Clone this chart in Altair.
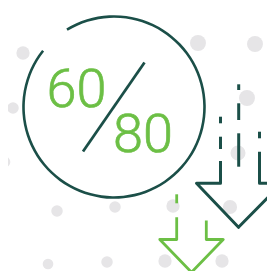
import math
import altair as alt
import pandas as pd

DARK = "#1b4f48"
GREEN = "#6cbf45"
DOT = "#e6e5e7"

# background dots (screen px): x, y, diameter
dot_x = [23, 198, 255, 13, 247, 5, 238, 57, 115, 173, 230, 48, 107, 165, 222, 275]
dot_y = [53, 43, 44, 108, 98, 162, 153, 211, 207, 206, 207, 264, 262, 261, 261, 263]
dot_d = [15, 18, 18, 13, 18, 12, 17, 13, 13, 15, 16, 12, 13, 15, 15, 15]

# big ring (centre, gap endpoints in radians, clockwise from top)
ring_cx = [114]
ring_cy = [107]
ring_t1 = [5.737]
ring_t2 = [11.666]

# slash
slash_x = [144.5]
slash_y = [62.5]
slash_x2 = [83]
slash_y2 = [151.5]

# labels
label_text = ["60", "80"]
label_x = [46.5, 113]
label_y = [106.6, 151.6]

# dashes above arrows
dark_dash_x = [238.7, 238.7, 238.7, 220.5, 220.5, 259.5]
dark_dash_y = [84.3, 103.3, 133.3, 116.7, 136.7, 131.7]
dark_dash_y2 = [90, 120, 166.7, 123.3, 149, 138.3]
green_dash_x = [176.7]
green_dash_y = [194.3]
green_dash_y2 = [203.3]

# arrow outlines
dark_arrow_x = [220.5, 220.5, 196.5, 238.5, 282, 259.5, 259.5]
dark_arrow_y = [161, 183.3, 183.3, 227.3, 183.3, 183.3, 151.7]
green_arrow_x = [176.7, 176.7, 159.8, 191.5, 223.2, 206.3, 206.3]
green_arrow_y = [217.3, 239.5, 239.5, 272.3, 239.5, 239.5, 220.5]

xs = alt.Scale(domain=[8, 267], nice=False, zero=False)
ys = alt.Scale(domain=[8, 271], nice=False, zero=False, reverse=True)

def X(f="x"):
    return alt.X(f"{f}:Q", scale=xs, axis=None)

def Y(f="y"):
    return alt.Y(f"{f}:Q", scale=ys, axis=None)

dots = pd.DataFrame({"x": dot_x, "y": dot_y,
                     "s": [math.pi * d * d / 4 for d in dot_d]})
dot_layer = alt.Chart(dots).mark_point(filled=True, shape="circle", color=DOT,
                                       opacity=1, strokeWidth=0).encode(
    x=X(), y=Y(), size=alt.Size("s:Q", scale=None))

ring = pd.DataFrame({"x": ring_cx, "y": ring_cy, "t1": ring_t1, "t2": ring_t2})
ring_layer = alt.Chart(ring).mark_arc(innerRadius=89.2, outerRadius=91.8, color=DARK).encode(
    x=X(), y=Y(), theta=alt.Theta("t1:Q", scale=None), theta2=alt.Theta2("t2"))

slash = pd.DataFrame({"x": slash_x, "y": slash_y, "x2": slash_x2, "y2": slash_y2})
slash_layer = alt.Chart(slash).mark_rule(color=DARK, strokeWidth=2.8).encode(
    x=X(), y=Y(), x2="x2", y2="y2")

labels = pd.DataFrame({"t": label_text, "x": label_x, "y": label_y})
text_layer = alt.Chart(labels).mark_text(align="left", baseline="alphabetic", font="Roboto",
                                         fontWeight=300, fontSize=54, color=GREEN,
                                         stroke=GREEN, strokeWidth=0.7).encode(
    x=X(), y=Y(), text="t:N")

dd = pd.DataFrame({"x": dark_dash_x, "y": dark_dash_y, "y2": dark_dash_y2})
dd_layer = alt.Chart(dd).mark_rule(color=DARK, strokeWidth=3).encode(x=X(), y=Y(), y2="y2")
gd = pd.DataFrame({"x": green_dash_x, "y": green_dash_y, "y2": green_dash_y2})
gd_layer = alt.Chart(gd).mark_rule(color=GREEN, strokeWidth=2.8).encode(x=X(), y=Y(), y2="y2")

da = pd.DataFrame({"x": dark_arrow_x, "y": dark_arrow_y, "o": list(range(len(dark_arrow_x)))})
da_layer = alt.Chart(da).mark_line(color=DARK, strokeWidth=3, strokeJoin="round",
                                   strokeCap="butt").encode(x=X(), y=Y(), order="o:Q")
ga = pd.DataFrame({"x": green_arrow_x, "y": green_arrow_y, "o": list(range(len(green_arrow_x)))})
ga_layer = alt.Chart(ga).mark_line(color=GREEN, strokeWidth=2.8, strokeJoin="round",
                                   strokeCap="butt").encode(x=X(), y=Y(), order="o:Q")

chart = alt.layer(dot_layer, ring_layer, slash_layer, text_layer, dd_layer, gd_layer,
                  da_layer, ga_layer).properties(
    width=259, height=263, padding=0, background="white",
    autosize=alt.AutoSizeParams(type="none"),
).configure_view(stroke=None)

chart.save("out.html", embed_options={"renderer": "svg", "actions": False})
